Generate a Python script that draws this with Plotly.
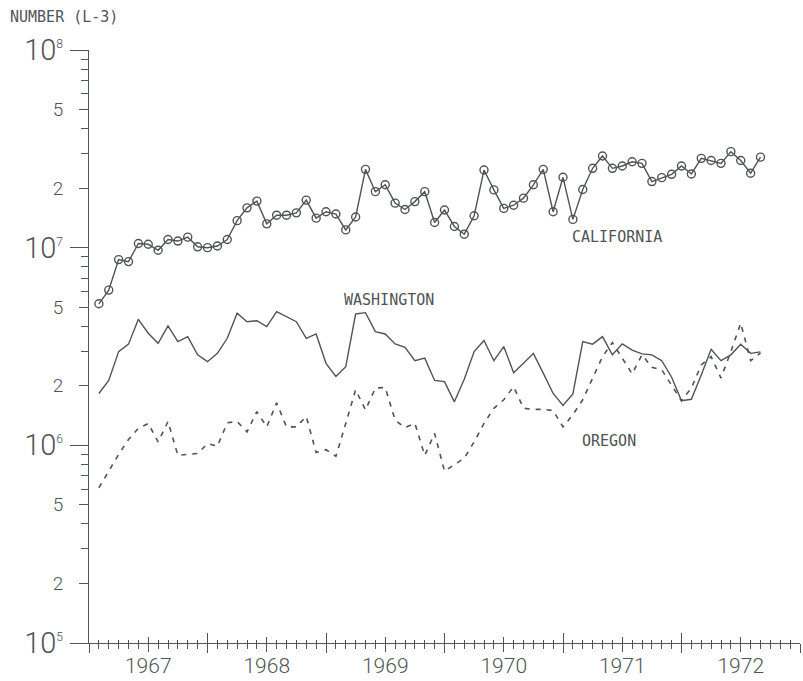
import math
import plotly.graph_objects as go

# monthly readings, month index counted from Jan 1967 (Feb 1967 .. Sep 1972)
months = list(range(1, 69))
year_labels = ['1967', '1968', '1969', '1970', '1971', '1972']

california = [5.2e6, 6.1e6, 8.7e6, 8.5e6, 1.05e7, 1.04e7, 9.7e6, 1.10e7, 1.08e7, 1.13e7,
              1.01e7, 1.00e7, 1.02e7, 1.10e7, 1.37e7, 1.59e7, 1.72e7, 1.32e7, 1.46e7, 1.46e7,
              1.50e7, 1.74e7, 1.41e7, 1.52e7, 1.48e7, 1.23e7, 1.43e7, 2.49e7, 1.92e7, 2.08e7,
              1.68e7, 1.56e7, 1.71e7, 1.92e7, 1.34e7, 1.55e7, 1.28e7, 1.17e7, 1.45e7, 2.47e7,
              1.96e7, 1.58e7, 1.64e7, 1.78e7, 2.08e7, 2.49e7, 1.52e7, 2.27e7, 1.39e7, 1.97e7,
              2.52e7, 2.91e7, 2.52e7, 2.59e7, 2.72e7, 2.67e7, 2.16e7, 2.26e7, 2.35e7, 2.59e7,
              2.36e7, 2.83e7, 2.76e7, 2.67e7, 3.06e7, 2.76e7, 2.38e7, 2.87e7]

washington = [1.83e6, 2.13e6, 2.98e6, 3.25e6, 4.34e6, 3.69e6, 3.28e6, 4.02e6, 3.35e6, 3.55e6,
              2.87e6, 2.65e6, 2.92e6, 3.48e6, 4.66e6, 4.22e6, 4.27e6, 3.99e6, 4.75e6, 4.48e6,
              4.22e6, 3.48e6, 3.66e6, 2.60e6, 2.23e6, 2.50e6, 4.62e6, 4.69e6, 3.76e6, 3.66e6,
              3.26e6, 3.13e6, 2.68e6, 2.76e6, 2.13e6, 2.10e6, 1.66e6, 2.16e6, 2.98e6, 3.39e6,
              2.68e6, 3.16e6, 2.33e6, 2.60e6, 2.92e6, 2.32e6, 1.83e6, 1.59e6, 1.82e6, 3.35e6,
              3.25e6, 3.55e6, 2.87e6, 3.26e6, 3.03e6, 2.90e6, 2.87e6, 2.68e6, 2.21e6, 1.68e6,
              1.71e6, 2.27e6, 3.06e6, 2.68e6, 2.87e6, 3.25e6, 2.92e6, 2.97e6]

oregon = [6.1e5, 7.4e5, 9.0e5, 1.07e6, 1.22e6, 1.29e6, 1.04e6, 1.32e6, 8.9e5, 9.0e5,
          9.1e5, 1.02e6, 9.9e5, 1.30e6, 1.32e6, 1.17e6, 1.48e6, 1.24e6, 1.64e6, 1.24e6,
          1.24e6, 1.40e6, 9.2e5, 9.5e5, 8.8e5, 1.29e6, 1.91e6, 1.51e6, 1.95e6, 1.96e6,
          1.34e6, 1.23e6, 1.29e6, 8.9e5, 1.15e6, 7.4e5, 8.0e5, 8.6e5, 1.04e6, 1.29e6,
          1.54e6, 1.70e6, 1.98e6, 1.54e6, 1.52e6, 1.52e6, 1.50e6, 1.24e6, 1.43e6, 1.70e6,
          2.19e6, 2.81e6, 3.31e6, 2.76e6, 2.30e6, 2.87e6, 2.48e6, 2.41e6, 2.02e6, 1.68e6,
          1.95e6, 2.55e6, 2.81e6, 2.19e6, 2.98e6, 4.15e6, 2.68e6, 2.94e6]

ink = '#4f5456'
mono = 'DejaVu Sans Mono'
num = 'Roboto'

decades = [1e5, 1e6, 1e7, 1e8]
decade_text = ['10<sup><span style="font-size:12px">%d</span></sup>' % round(math.log10(d)) for d in decades]
mid_ticks = [1e5 * 10 ** e * k for e in range(3) for k in (2, 5)]
mid_text = ['2', '5'] * 3
small_ticks = [1e5 * 10 ** e * k for e in range(3) for k in (3, 4, 6, 7, 8, 9)]
year_mid = [6 + 12 * i for i in range(6)]
year_edges = [12 * i for i in range(7)]

fig = go.Figure()
fig.add_trace(go.Scatter(x=months, y=california, mode='lines+markers', name='California',
                         line=dict(color=ink, width=1.4),
                         marker=dict(symbol='circle-open', size=8, color=ink, line=dict(width=1.4))))
fig.add_trace(go.Scatter(x=months, y=washington, mode='lines', name='Washington',
                         line=dict(color=ink, width=1.4)))
fig.add_trace(go.Scatter(x=months, y=oregon, mode='lines', name='Oregon',
                         line=dict(color=ink, width=1.6, dash='5px,6px')))

# empty traces so the extra tick axes get drawn
for xa, ya in [('x2', 'y'), ('x3', 'y'), ('x4', 'y'), ('x', 'y2')]:
    fig.add_trace(go.Scatter(x=[], y=[], xaxis=xa, yaxis=ya, showlegend=False, hoverinfo='skip'))

axis_base = dict(range=[0, 72], showgrid=False, zeroline=False, tickcolor=ink, tickwidth=1.3,
                 automargin=False)
fig.update_layout(
    width=803, height=681, showlegend=False,
    paper_bgcolor='white', plot_bgcolor='white',
    margin=dict(l=89, r=3, t=50, b=38, pad=0),
    title=dict(text='NUMBER (L-3)', x=10 / 803, xanchor='left', y=1 - 17 / 681, yanchor='middle',
               font=dict(family=mono, size=15, color=ink)),
    # labelled axis carries the inside half of the crossing ticks
    xaxis=dict(axis_base, tickmode='array', tickvals=year_mid, ticktext=year_labels,
               ticks='inside', ticklen=6, showline=True, linecolor=ink, linewidth=1.4,
               tickfont=dict(family=num, size=21, color=ink, weight=300), ticklabelstandoff=4,
               minor=dict(ticks='inside', dtick=1, tick0=0, ticklen=3, tickwidth=1.2, tickcolor=ink)),
    xaxis2=dict(axis_base, overlaying='x', anchor='y', tickmode='array', tickvals=year_mid,
                ticks='outside', ticklen=8, showticklabels=False, showline=False,
                minor=dict(ticks='outside', dtick=1, tick0=0, ticklen=5, tickwidth=1.2, tickcolor=ink)),
    xaxis3=dict(axis_base, overlaying='x', anchor='y', tickmode='array', tickvals=year_edges,
                ticks='outside', ticklen=9, showticklabels=False, showline=False),
    xaxis4=dict(axis_base, overlaying='x', anchor='y', tickmode='array', tickvals=year_edges,
                ticks='inside', ticklen=10, showticklabels=False, showline=False),
    yaxis=dict(type='log', range=[5, 8], tickmode='array', tickvals=decades, ticktext=decade_text,
               ticks='outside', ticklen=18, tickwidth=1.3, tickcolor=ink, automargin=False,
               showline=True, linecolor=ink, linewidth=1.4, showgrid=False, zeroline=False,
               tickfont=dict(family=num, size=29, color=ink, weight=300), ticklabelstandoff=1,
               minor=dict(ticks='outside', tickvals=small_ticks, ticklen=7, tickwidth=1.2, tickcolor=ink)),
    yaxis2=dict(type='log', range=[5, 8], overlaying='y', side='left', anchor='x',
                tickmode='array', tickvals=mid_ticks, ticktext=mid_text, automargin=False,
                ticks='outside', ticklen=9, tickwidth=1.2, tickcolor=ink,
                showline=False, showgrid=False, zeroline=False,
                tickfont=dict(family=num, size=19, color=ink, weight=300), ticklabelstandoff=12),
)

labels = [('CALIFORNIA', 53.5, 1.13e7), ('WASHINGTON', 30.4, 5.45e6), ('OREGON', 52.7, 1.05e6)]
for text, xm, yv in labels:
    fig.add_annotation(x=xm, y=math.log10(yv), xref='x', yref='y', text=text, showarrow=False,
                       font=dict(family=mono, size=15, color=ink))

fig.write_html('out.html', config={'displayModeBar': False},
               post_script="document.body.style.margin='0';")
